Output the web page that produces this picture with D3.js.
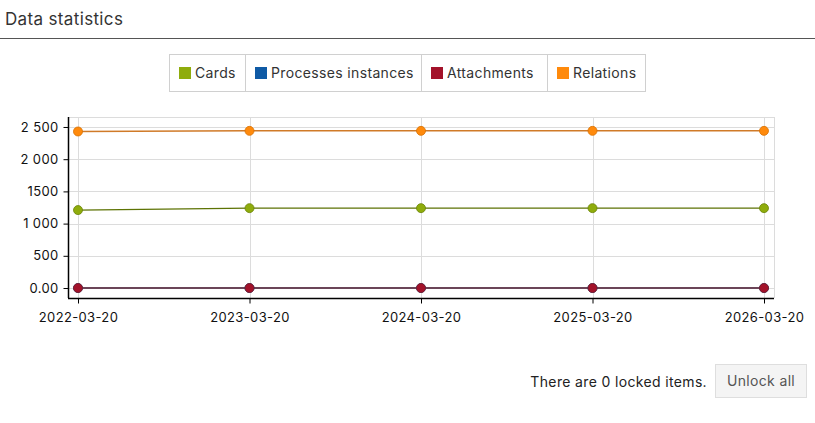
<!DOCTYPE html>
<html><head><meta charset="utf-8">
<script src="https://cdn.jsdelivr.net/npm/d3@7"></script>
<style>
body{margin:0;background:#fff;font-family:Inter,"Open Sans",sans-serif;}
svg{display:block}
text{letter-spacing:0.35px}
</style></head>
<body>
<svg id="c" width="815" height="423"></svg>
<script>
const dates = ["2022-03-20","2023-03-20","2024-03-20","2025-03-20","2026-03-20"];
const seriesNames = ["Cards","Processes instances","Attachments","Relations"];
const cards = [1210, 1240, 1240, 1240, 1240];
const processes = [0, 0, 0, 0, 0];
const attachments = [0, 0, 0, 0, 0];
const relations = [2430, 2440, 2440, 2440, 2440];
const yTickValues = [0, 500, 1000, 1500, 2000, 2500];
const yTickLabels = ["0.00", "500", "1 000", "1500", "2 000", "2 500"];

const colors = {
  "Cards": {fill:"#8fac0c", stroke:"#6a8408", line:"#5d7304"},
  "Processes instances": {fill:"#0f5aa5", stroke:"#0a3f75", line:"#3a4f7a"},
  "Attachments": {fill:"#a3122a", stroke:"#7a1d2d", line:"#6b4558"},
  "Relations": {fill:"#ff8a0c", stroke:"#d87000", line:"#d07a28"}
};
const data = [
  {name:"Cards", values:cards},
  {name:"Processes instances", values:processes},
  {name:"Attachments", values:attachments},
  {name:"Relations", values:relations}
];

const svg = d3.select("#c");

// Title
svg.append("text").attr("x",5).attr("y",25).attr("font-size",17).attr("fill","#333").text("Data statistics");
svg.append("line").attr("x1",0).attr("x2",815).attr("y1",38.5).attr("y2",38.5).attr("stroke","#555").attr("stroke-width",1);

// Legend
const legendX = [169.5, 245.5, 421.5, 547.5, 645.5];
svg.append("rect").attr("x",169.5).attr("y",54.5).attr("width",476).attr("height",37).attr("fill","#fff").attr("stroke","#d0d0d0");
seriesNames.forEach((n,i)=>{
  if(i>0) svg.append("line").attr("x1",legendX[i]).attr("x2",legendX[i]).attr("y1",54.5).attr("y2",91.5).attr("stroke","#d0d0d0");
  svg.append("rect").attr("x",legendX[i]+9.5).attr("y",67).attr("width",12).attr("height",12).attr("fill",colors[n].fill);
  svg.append("text").attr("x",legendX[i]+25.5).attr("y",78).attr("font-size",14).attr("fill","#333").text(n);
});

// Scales
const x = d3.scalePoint().domain(dates).range([78,764]);
const y = d3.scaleLinear().domain([-155,2655]).range([298,117]);

const plotL = 68, plotR = 774, plotT = 117, plotB = 298;

// Grid
const g = svg.append("g");
g.append("line").attr("x1",plotL).attr("x2",plotR).attr("y1",plotT+0.5).attr("y2",plotT+0.5).attr("stroke","#dcdcdc");
g.append("line").attr("x1",plotR+0.5).attr("x2",plotR+0.5).attr("y1",plotT).attr("y2",plotB).attr("stroke","#dcdcdc");
yTickValues.forEach(v=>{
  g.append("line").attr("x1",plotL).attr("x2",plotR).attr("y1",Math.round(y(v))+0.5).attr("y2",Math.round(y(v))+0.5).attr("stroke","#dcdcdc");
});
dates.forEach(d=>{
  g.append("line").attr("x1",Math.round(x(d))+0.5).attr("x2",Math.round(x(d))+0.5).attr("y1",plotT).attr("y2",plotB).attr("stroke","#dcdcdc");
});

// Axes
const yAxis = d3.axisLeft(y).tickValues(yTickValues).tickFormat((d,i)=>yTickLabels[i]).tickSize(5).tickSizeOuter(0);
const ya = svg.append("g").attr("transform",`translate(${plotL+0.5},0)`).call(yAxis);
ya.select(".domain").attr("d",`M0,${plotT}V${plotB}`).attr("stroke","#000").attr("stroke-width",1.5);
ya.selectAll("text").attr("font-size",13).attr("fill","#111").attr("font-family","Inter,'Open Sans',sans-serif").attr("x",-10);

const xAxis = d3.axisBottom(x).tickSize(5).tickSizeOuter(0);
const xa = svg.append("g").attr("transform",`translate(0,${plotB+0.5})`).call(xAxis);
xa.select(".domain").attr("d",`M${plotL},0H${plotR}`).attr("stroke","#000").attr("stroke-width",1.5);
xa.selectAll("text").attr("font-size",13).attr("fill","#111").attr("font-family","Inter,'Open Sans',sans-serif").attr("y",14);

// Lines
const line = d3.line().x((d,i)=>x(dates[i])).y(d=>y(d));
data.forEach(s=>{
  svg.append("path").attr("d",line(s.values)).attr("fill","none")
    .attr("stroke",colors[s.name].line).attr("stroke-width", s.name==="Cards"?1.2:(s.name==="Relations"?1.5:2));
});
// Points
data.forEach(s=>{
  svg.append("g").selectAll("circle").data(s.values).join("circle")
    .attr("cx",(d,i)=>x(dates[i])).attr("cy",d=>y(d)).attr("r",4.5)
    .attr("fill",colors[s.name].fill).attr("stroke",colors[s.name].stroke).attr("stroke-width",0.8);
});

// Footer
svg.append("text").attr("x",707).attr("y",387).attr("text-anchor","end").attr("font-size",14).attr("fill","#222").text("There are 0 locked items.");
svg.append("rect").attr("x",715.5).attr("y",364.5).attr("width",91).attr("height",33).attr("fill","#f4f4f4").attr("stroke","#dedede");
svg.append("text").attr("x",761).attr("y",386).attr("text-anchor","middle").attr("font-size",14).attr("fill","#555").text("Unlock all");
</script>
</body></html>
